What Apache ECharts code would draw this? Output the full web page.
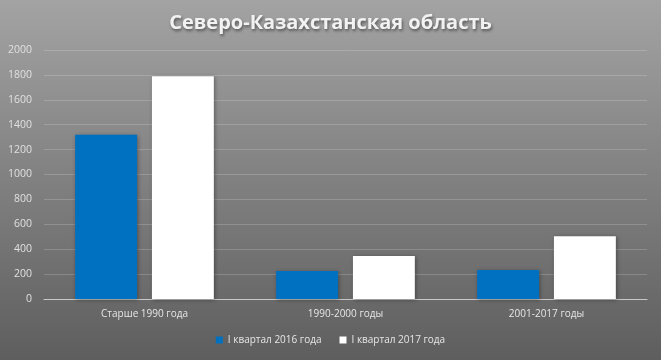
<!DOCTYPE html>
<html><head><meta charset="utf-8">
<script src="https://cdn.jsdelivr.net/npm/echarts@6/dist/echarts.min.js"></script>
<style>html,body{margin:0;padding:0;}#c{width:661px;height:360px;}</style>
</head><body><div id="c"></div>
<script>
const categories = ['Старше 1990 года', '1990-2000 годы', '2001-2017 годы'];
const series2016 = [1320, 225, 232];
const series2017 = [1790, 345, 505];
const seriesNames = ['I квартал 2016 года', 'I квартал 2017 года'];
const yTicks = {min: 0, max: 2000, interval: 200};

const chart = echarts.init(document.getElementById('c'));
const font = "'Open Sans', 'DejaVu Sans', sans-serif";
chart.setOption({
  animation: false,
  backgroundColor: {type: 'linear', x: 0, y: 0, x2: 0, y2: 1,
    colorStops: [{offset: 0, color: '#a3a3a3'}, {offset: 1, color: '#5e5e5e'}]},
  title: {text: 'Северо-Казахстанская область', left: 'center', top: 8,
    textStyle: {color: '#f2f2f2', fontSize: 20, fontWeight: 'bold', fontFamily: font,
      textShadowColor: 'rgba(0,0,0,0.45)', textShadowBlur: 3, textShadowOffsetX: 1, textShadowOffsetY: 2}},
  legend: {bottom: 10, left: 'center', itemWidth: 7, itemHeight: 7, itemGap: 18,
    icon: 'rect', textStyle: {color: '#e6e6e6', fontSize: 10, fontFamily: font}},
  grid: {left: 44, right: 14, top: 50, bottom: 61},
  xAxis: {type: 'category', data: categories,
    axisLine: {lineStyle: {color: '#c8c8c8', width: 1}}, axisTick: {show: false},
    axisLabel: {color: '#e6e6e6', fontSize: 10, fontFamily: font, margin: 10}},
  yAxis: {type: 'value', min: yTicks.min, max: yTicks.max, interval: yTicks.interval,
    axisLine: {show: false}, axisTick: {show: false},
    axisLabel: {color: '#e0e0e0', fontSize: 10.5, fontFamily: font, margin: 12,
      formatter: v => String(v)},
    splitLine: {lineStyle: {color: 'rgba(255,255,255,0.18)', width: 1}}},
  series: [
    {name: seriesNames[0], type: 'bar', data: series2016, barGap: '24%', barCategoryGap: '31%',
      itemStyle: {color: '#0070c0', shadowColor: 'rgba(0,0,0,0.35)', shadowBlur: 4, shadowOffsetX: 1, shadowOffsetY: 1}},
    {name: seriesNames[1], type: 'bar', data: series2017, barGap: '24%', barCategoryGap: '31%',
      itemStyle: {color: '#ffffff', shadowColor: 'rgba(0,0,0,0.35)', shadowBlur: 4, shadowOffsetX: 1, shadowOffsetY: 1}}
  ]
});
</script></body></html>
